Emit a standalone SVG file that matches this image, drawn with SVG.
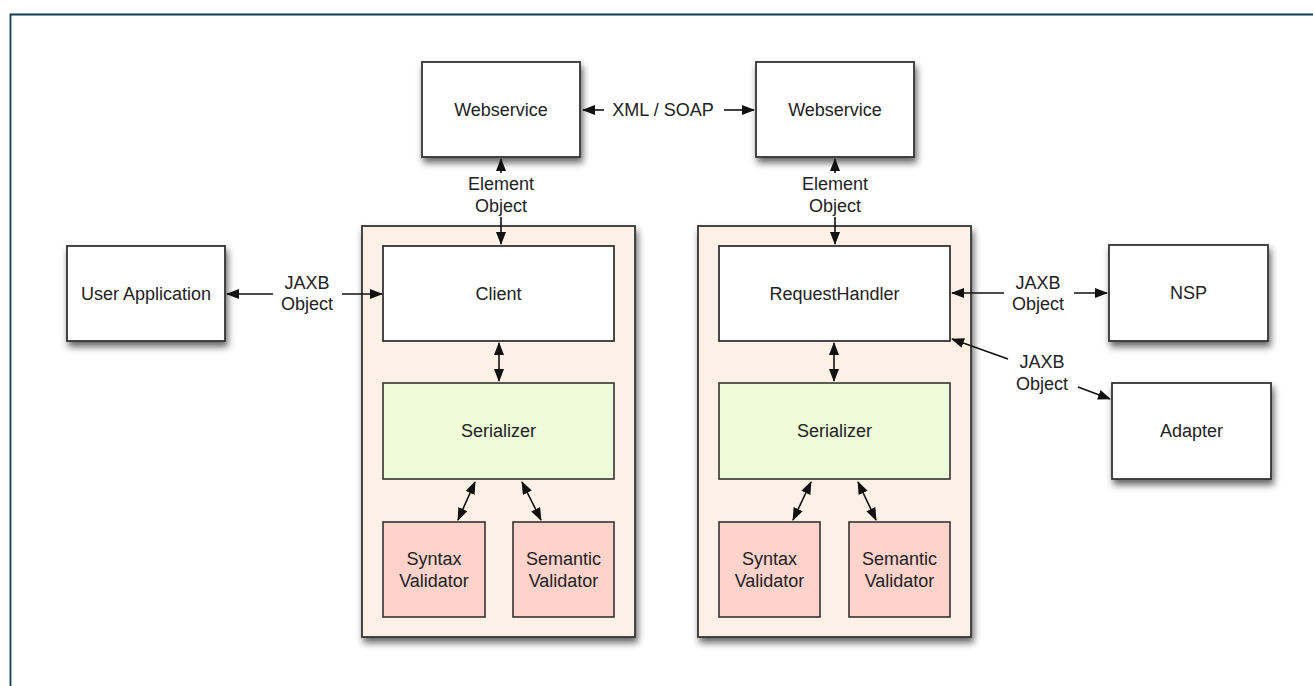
<svg xmlns="http://www.w3.org/2000/svg" width="1313" height="686" viewBox="0 0 1313 686">
<style>
.box{fill:#ffffff;stroke:#333333;stroke-width:1.8}
.cont{fill:#fdf1e7;stroke:#333333;stroke-width:1.8}
.ser{fill:#effcda;stroke:#333333;stroke-width:1.6}
.val{fill:#fdd3cc;stroke:#333333;stroke-width:1.6}
text{font-family:"Liberation Sans",Arial,sans-serif;font-size:18px;fill:#222222;text-anchor:middle}
.conn path{fill:none;stroke:#111111;stroke-width:1.6}
</style>
<defs>
<filter id="sh" x="-20%" y="-20%" width="140%" height="150%">
<feDropShadow dx="2" dy="5" stdDeviation="3.5" flood-color="#000000" flood-opacity="0.6"/>
</filter>
<marker id="ah" viewBox="0 0 13 10" refX="12" refY="5" markerWidth="13" markerHeight="10" markerUnits="userSpaceOnUse" orient="auto-start-reverse">
<path d="M0,0 L13,5 L0,10 Z" fill="#111111"/>
</marker>
</defs>
<rect width="1313" height="686" fill="#ffffff"/>
<path d="M10.5,686 L10.5,14.5 L1313,14.5" fill="none" stroke="#0f3f4f" stroke-width="1.8"/>

<g id="container-left"><rect class="cont" x="362" y="226" width="273" height="411" filter="url(#sh)"/></g>
<g id="container-right"><rect class="cont" x="698" y="226" width="273" height="411" filter="url(#sh)"/></g>

<g id="webservice-left"><rect class="box" x="422" y="62" width="158" height="95" filter="url(#sh)"/><text x="501" y="116">Webservice</text></g>
<g id="webservice-right"><rect class="box" x="756" y="62" width="158" height="95" filter="url(#sh)"/><text x="835" y="116">Webservice</text></g>
<g id="user-application"><rect class="box" x="67" y="246" width="158" height="95" filter="url(#sh)"/><text x="146" y="300">User Application</text></g>
<g id="client"><rect class="box" x="383" y="246" width="231" height="95"/><text x="498.5" y="300">Client</text></g>
<g id="serializer-left"><rect class="ser" x="383" y="383" width="231" height="96"/><text x="498.5" y="437">Serializer</text></g>
<g id="syntax-left"><rect class="val" x="383" y="522" width="102" height="95"/><text x="434" y="565">Syntax</text><text x="434" y="587">Validator</text></g>
<g id="semantic-left"><rect class="val" x="513" y="522" width="101" height="95"/><text x="563.5" y="565">Semantic</text><text x="563.5" y="587">Validator</text></g>
<g id="requesthandler"><rect class="box" x="719" y="246" width="231" height="95"/><text x="834.5" y="300">RequestHandler</text></g>
<g id="serializer-right"><rect class="ser" x="719" y="383" width="231" height="96"/><text x="834.5" y="437">Serializer</text></g>
<g id="syntax-right"><rect class="val" x="719" y="522" width="101" height="95"/><text x="769.5" y="565">Syntax</text><text x="769.5" y="587">Validator</text></g>
<g id="semantic-right"><rect class="val" x="849" y="522" width="101" height="95"/><text x="899.5" y="565">Semantic</text><text x="899.5" y="587">Validator</text></g>
<g id="nsp"><rect class="box" x="1109" y="245" width="159" height="96" filter="url(#sh)"/><text x="1188.5" y="299">NSP</text></g>
<g id="adapter"><rect class="box" x="1112" y="383" width="159" height="96" filter="url(#sh)"/><text x="1191.5" y="437">Adapter</text></g>

<g class="conn" id="connectors">
<path d="M604,110 L583,110" marker-end="url(#ah)"/>
<path d="M724,110 L754,110" marker-end="url(#ah)"/>
<text x="663" y="116">XML / SOAP</text>
<path d="M501,173 L501,159" marker-end="url(#ah)"/>
<path d="M501,217 L501,244" marker-end="url(#ah)"/>
<text x="501" y="190">Element</text><text x="501" y="212">Object</text>
<path d="M835,173 L835,159" marker-end="url(#ah)"/>
<path d="M835,217 L835,244" marker-end="url(#ah)"/>
<text x="835" y="190">Element</text><text x="835" y="212">Object</text>
<path d="M273,294 L227,294" marker-end="url(#ah)"/>
<path d="M342,294 L382,294" marker-end="url(#ah)"/>
<text x="307" y="289">JAXB</text><text x="307" y="310">Object</text>
<path d="M499,343 L499,381" marker-start="url(#ah)" marker-end="url(#ah)"/>
<path d="M475,482 L458,520" marker-start="url(#ah)" marker-end="url(#ah)"/>
<path d="M522,482 L541,520" marker-start="url(#ah)" marker-end="url(#ah)"/>
<path d="M834,343 L834,381" marker-start="url(#ah)" marker-end="url(#ah)"/>
<path d="M811,482 L793,520" marker-start="url(#ah)" marker-end="url(#ah)"/>
<path d="M858,482 L876,520" marker-start="url(#ah)" marker-end="url(#ah)"/>
<path d="M1004,293 L952,293" marker-end="url(#ah)"/>
<path d="M1074,293 L1107,293" marker-end="url(#ah)"/>
<text x="1038" y="289">JAXB</text><text x="1038" y="310">Object</text>
<path d="M1008,359 L952,339" marker-end="url(#ah)"/>
<path d="M1078,387 L1110,399" marker-end="url(#ah)"/>
<text x="1042" y="368">JAXB</text><text x="1042" y="390">Object</text>
</g>
</svg>
